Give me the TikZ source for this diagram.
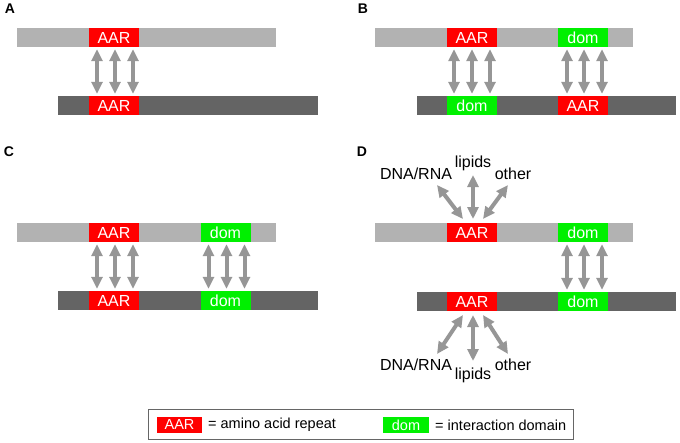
\documentclass[tikz,border=0pt]{standalone}
\usepackage{fontspec}
\setmainfont{Liberation Sans}
\usetikzlibrary{arrows.meta}

\definecolor{topgray}{RGB}{178,178,178}
\definecolor{botgray}{RGB}{100,100,100}
\definecolor{arrgray}{RGB}{150,150,150}
\definecolor{aarred}{RGB}{255,0,0}
\definecolor{domgreen}{RGB}{0,240,0}

\tikzset{
  topbar/.style={fill=topgray, minimum height=19pt, inner sep=0pt},
  botbar/.style={fill=botgray, minimum height=19pt, inner sep=0pt},
  aar/.style={fill=aarred, text=white, minimum width=50pt, minimum height=19pt, inner sep=0pt, font=\fontsize{16}{17}\selectfont},
  dom/.style={fill=domgreen, text=white, minimum width=50pt, minimum height=19pt, inner sep=0pt, font=\fontsize{16}{17}\selectfont},
  link/.style={draw=arrgray, line width=4pt, {Triangle[width=11pt,length=12pt]}-{Triangle[width=11pt,length=12pt]}, shorten <=2pt, shorten >=2pt},
  panel/.style={font=\fontsize{14}{16}\selectfont\bfseries},
  partner/.style={font=\fontsize{16}{18}\selectfont, inner sep=0pt}
}

\begin{document}
\begin{tikzpicture}[x=1pt,y=-1pt]
  \useasboundingbox (0,0) rectangle (680,442);

  % A
  \node[panel] (labA) at (10,9) {A};
  \node[topbar, minimum width=259pt] (barAt) at (146.5,37.5) {};
  \node[botbar, minimum width=260pt] (barAb) at (188,105.5) {};
  \node[aar] (aarAt) at (114,37.5) {AAR};
  \node[aar] (aarAb) at (114,105.5) {AAR};

  \draw[link] ([xshift=-17pt]aarAt.south) -- ([xshift=-17pt]aarAb.north);
  \draw[link] ([xshift=1pt]aarAt.south) -- ([xshift=1pt]aarAb.north);
  \draw[link] ([xshift=19pt]aarAt.south) -- ([xshift=19pt]aarAb.north);

  % B
  \node[panel] (labB) at (363,9) {B};
  \node[topbar, minimum width=258pt] (barBt) at (504,37.5) {};
  \node[botbar, minimum width=259pt] (barBb) at (546.5,105.5) {};
  \node[aar] (aarBt) at (472,37.5) {AAR};
  \node[dom] (domBt) at (583,37.5) {dom};
  \node[dom] (domBb) at (472,105.5) {dom};
  \node[aar] (aarBb) at (583,105.5) {AAR};

  \draw[link] ([xshift=-18pt]aarBt.south) -- ([xshift=-18pt]domBb.north);
  \draw[link] (aarBt.south) -- (domBb.north);
  \draw[link] ([xshift=18pt]aarBt.south) -- ([xshift=18pt]domBb.north);
  \draw[link] ([xshift=-16pt]domBt.south) -- ([xshift=-16pt]aarBb.north);
  \draw[link] ([xshift=1pt]domBt.south) -- ([xshift=1pt]aarBb.north);
  \draw[link] ([xshift=19pt]domBt.south) -- ([xshift=19pt]aarBb.north);

  % C
  \node[panel] (labC) at (9,152) {C};
  \node[topbar, minimum width=259pt] (barCt) at (146.5,232.5) {};
  \node[botbar, minimum width=260pt] (barCb) at (188,300.5) {};
  \node[aar] (aarCt) at (114,232.5) {AAR};
  \node[dom] (domCt) at (225.5,232.5) {dom};
  \node[aar] (aarCb) at (114,300.5) {AAR};
  \node[dom] (domCb) at (225.5,300.5) {dom};

  \draw[link] ([xshift=-17pt]aarCt.south) -- ([xshift=-17pt]aarCb.north);
  \draw[link] ([xshift=1pt]aarCt.south) -- ([xshift=1pt]aarCb.north);
  \draw[link] ([xshift=19pt]aarCt.south) -- ([xshift=19pt]aarCb.north);
  \draw[link] ([xshift=-17pt]domCt.south) -- ([xshift=-17pt]domCb.north);
  \draw[link] ([xshift=1pt]domCt.south) -- ([xshift=1pt]domCb.north);
  \draw[link] ([xshift=19pt]domCt.south) -- ([xshift=19pt]domCb.north);

  % D
  \node[panel] (labD) at (362,152) {D};
  \node[topbar, minimum width=258pt] (barDt) at (504,232.5) {};
  \node[botbar, minimum width=259pt] (barDb) at (546.5,301.5) {};
  \node[aar] (aarDt) at (472,232.5) {AAR};
  \node[dom] (domDt) at (583,232.5) {dom};
  \node[aar] (aarDb) at (472,301.5) {AAR};
  \node[dom] (domDb) at (583,301.5) {dom};

  \draw[link] ([xshift=-16pt]domDt.south) -- ([xshift=-16pt]domDb.north);
  \draw[link] ([xshift=1pt]domDt.south) -- ([xshift=1pt]domDb.north);
  \draw[link] ([xshift=19pt]domDt.south) -- ([xshift=19pt]domDb.north);

  \node[partner] (dnaT) at (416,174) {DNA/RNA};
  \node[partner] (lipT) at (473,163) {lipids};
  \node[partner] (othT) at (513,174) {other};
  \coordinate (dnaTe) at (437,185);
  \coordinate (lipTe) at (473,175);
  \coordinate (othTe) at (508,185);
  \coordinate (aarDtl) at (463,219);
  \coordinate (aarDtm) at (473,219);
  \coordinate (aarDtr) at (483,219);
  \draw[link, shorten <=0pt, shorten >=0pt] (dnaTe) -- (aarDtl);
  \draw[link, shorten <=0pt, shorten >=0pt] (lipTe) -- (aarDtm);
  \draw[link, shorten <=0pt, shorten >=0pt] (othTe) -- (aarDtr);

  \node[partner] (dnaB) at (416,365) {DNA/RNA};
  \node[partner] (lipB) at (473,375) {lipids};
  \node[partner] (othB) at (513,365) {other};
  \coordinate (dnaBe) at (437,354);
  \coordinate (lipBe) at (473,361);
  \coordinate (othBe) at (508,354);
  \coordinate (aarDbl) at (463,315);
  \coordinate (aarDbm) at (473,315);
  \coordinate (aarDbr) at (483,315);
  \draw[link, shorten <=0pt, shorten >=0pt] (aarDbl) -- (dnaBe);
  \draw[link, shorten <=0pt, shorten >=0pt] (aarDbm) -- (lipBe);
  \draw[link, shorten <=0pt, shorten >=0pt] (aarDbr) -- (othBe);

  % legend
  \draw[draw=gray!80!black, line width=0.8pt] (148,409) rectangle (573,439);
  \node[aar, minimum width=45pt, minimum height=16pt, font=\fontsize{14.5}{15}\selectfont] (keyAar) at (179.5,425) {AAR};
  \node[anchor=west, inner sep=0pt, font=\fontsize{14.5}{15}\selectfont] (keyAarTxt) at (208,425) {= amino acid repeat};
  \node[dom, minimum width=46pt, minimum height=16pt, font=\fontsize{14.5}{15}\selectfont] (keyDom) at (406,425) {dom};
  \node[anchor=west, inner sep=0pt, font=\fontsize{14.5}{15}\selectfont] (keyDomTxt) at (435,425) {= interaction domain};
\end{tikzpicture}
\end{document}
